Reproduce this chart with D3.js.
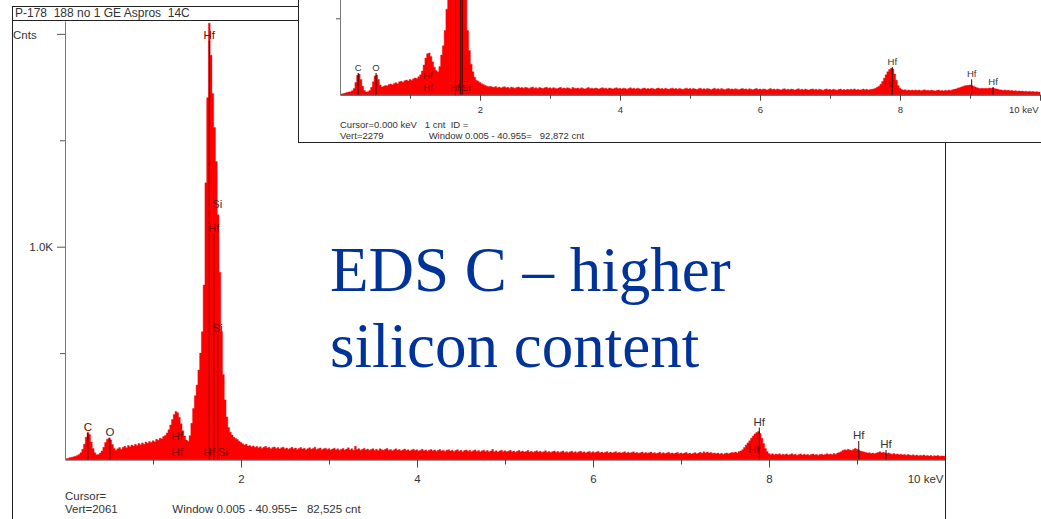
<!DOCTYPE html>
<html><head><meta charset="utf-8">
<script src="https://cdn.jsdelivr.net/npm/d3@7"></script>
<style>
body{margin:0;background:#fff;}
svg{display:block;}
text{font-family:"Liberation Sans",Arial,sans-serif;}
</style>
</head><body>
<svg id="c" width="1041" height="519"></svg>
<script>
// ---------------- DATA ----------------
const mainTitle = "P-178  188 no 1 GE Aspros  14C";
const headline = ["EDS C \u2013 higher", "silicon content"];

// main spectrum: counts per 0.02 keV channel group, 0 .. 10 keV (10 values per 0.2 keV row)
const mainStep = 0.02;
const mainCounts = [
  0, 3, 6, 9, 11, 13, 15, 19, 24, 32,
  48, 72, 105, 127, 118, 82, 52, 32, 22, 24,
  30, 40, 58, 80, 95, 100, 92, 70, 52, 44,
  50, 56, 48, 58, 62, 55, 66, 60, 68, 63,
  72, 66, 75, 69, 78, 72, 82, 76, 85, 80,
  88, 83, 95, 90, 100, 97, 108, 113, 125, 140,
  162, 188, 212, 226, 220, 198, 168, 135, 110, 92,
  86, 112, 170, 240, 300, 350, 420, 500, 600, 820,
  1300, 1700, 2050, 1900, 1720, 1560, 1400, 1150, 880, 600,
  400, 280, 200, 150, 128, 115, 104, 99, 94, 86,
  80, 74, 68, 72, 63, 66, 60, 64, 57, 61,
  55, 60, 53, 58, 62, 54, 57, 50, 56, 59,
  52, 56, 49, 55, 58, 51, 54, 48, 53, 57,
  50, 54, 47, 52, 56, 49, 53, 46, 51, 55,
  48, 52, 58, 47, 51, 54, 46, 50, 53, 47,
  51, 45, 49, 53, 46, 50, 44, 48, 52, 45,
  49, 55, 46, 50, 43, 62, 47, 51, 44, 48,
  52, 45, 49, 43, 47, 51, 44, 48, 42, 50,
  46, 43, 48, 52, 44, 47, 41, 46, 50, 43,
  47, 41, 45, 49, 42, 46, 40, 45, 48, 42,
  46, 40, 44, 48, 41, 45, 39, 44, 47, 41,
  45, 39, 43, 47, 40, 44, 38, 43, 46, 40,
  44, 38, 42, 46, 39, 43, 37, 42, 45, 39,
  43, 37, 41, 45, 38, 42, 36, 41, 44, 38,
  42, 36, 40, 47, 37, 41, 35, 40, 43, 37,
  41, 36, 39, 43, 36, 40, 34, 39, 42, 36,
  40, 35, 38, 42, 35, 39, 34, 38, 41, 35,
  39, 34, 37, 41, 34, 38, 33, 37, 40, 34,
  38, 33, 37, 40, 33, 37, 32, 36, 39, 33,
  37, 32, 36, 39, 33, 36, 31, 35, 38, 32,
  36, 32, 35, 38, 32, 35, 30, 34, 37, 31,
  35, 31, 34, 37, 31, 34, 30, 33, 36, 30,
  34, 30, 33, 36, 30, 33, 29, 32, 35, 29,
  33, 29, 32, 35, 29, 32, 28, 31, 34, 28,
  32, 28, 31, 34, 28, 31, 27, 30, 33, 27,
  31, 27, 30, 33, 27, 30, 26, 29, 32, 27,
  30, 34, 29, 36, 31, 35, 30, 33, 28, 31,
  27, 30, 26, 29, 25, 28, 31, 27, 30, 33,
  32, 35, 30, 38, 40, 46, 56, 68, 78, 88,
  100, 110, 120, 127, 131, 122, 100, 75, 52, 38,
  28, 24, 27, 22, 26, 23, 27, 21, 25, 22,
  26, 21, 24, 27, 22, 25, 20, 24, 26, 21,
  25, 21, 24, 20, 23, 26, 21, 24, 20, 23,
  25, 21, 24, 27, 23, 26, 22, 28, 25, 30,
  33, 37, 42, 46, 44, 48, 45, 42, 47, 52,
  48, 44, 40, 38, 35, 33, 30, 32, 28, 30,
  27, 30, 33, 36, 32, 34, 30, 28, 31, 27,
  25, 28, 24, 26, 22, 25, 21, 24, 20, 23,
  21, 19, 22, 18, 21, 17, 20, 18, 21, 17,
  19, 16, 19, 15, 18, 16, 19, 15, 17, 16,
  15
];

// inset spectrum: counts per 0.025 keV, 0 .. 10 keV (8 values per 0.2 keV row)
const insetStep = 0.025;
const insetCounts = [
  0, 4, 8, 11, 14, 17, 20, 26,
  40, 80, 128, 135, 100, 55, 28, 18,
  20, 28, 48, 85, 122, 129, 100, 64,
  50, 55, 60, 58, 66, 70, 65, 74,
  78, 72, 84, 88, 82, 92, 96, 90,
  100, 95, 104, 110, 106, 118, 130, 155,
  195, 240, 268, 273, 250, 215, 180, 158,
  150, 185, 260, 320, 420, 560, 700, 900,
  1400, 1900, 2200, 2000, 1800, 1600, 1400, 1100,
  750, 420, 290, 200, 150, 115, 95, 88,
  80, 72, 66, 60, 56, 52, 55, 50,
  48, 53, 46, 50, 44, 49, 52, 45,
  48, 43, 50, 46, 42, 47, 51, 44,
  47, 42, 48, 45, 41, 46, 50, 43,
  46, 41, 47, 44, 40, 45, 49, 42,
  45, 40, 46, 43, 39, 44, 48, 41,
  44, 40, 45, 42, 38, 47, 43, 40,
  44, 39, 45, 41, 38, 43, 47, 40,
  43, 39, 44, 41, 37, 42, 46, 40,
  43, 38, 44, 40, 37, 42, 45, 39,
  42, 38, 43, 40, 36, 41, 45, 39,
  42, 37, 43, 39, 36, 41, 44, 38,
  41, 37, 42, 39, 35, 40, 44, 38,
  41, 36, 42, 38, 35, 40, 43, 37,
  40, 36, 41, 38, 34, 39, 43, 37,
  40, 35, 41, 37, 34, 39, 42, 36,
  39, 35, 40, 37, 33, 38, 42, 36,
  39, 34, 40, 36, 33, 38, 41, 35,
  38, 34, 39, 36, 32, 37, 41, 35,
  38, 33, 39, 35, 32, 37, 40, 34,
  37, 33, 38, 35, 31, 36, 40, 34,
  37, 32, 38, 34, 31, 36, 39, 33,
  36, 32, 37, 34, 30, 35, 39, 33,
  36, 31, 37, 33, 30, 35, 38, 32,
  35, 31, 36, 33, 29, 34, 38, 32,
  35, 30, 36, 32, 29, 34, 37, 31,
  34, 30, 35, 32, 36, 33, 38, 31,
  34, 30, 33, 37, 32, 35, 31, 34,
  36, 38, 42, 48, 56, 68, 86, 108,
  130, 150, 165, 173, 168, 135, 95, 60,
  42, 34, 30, 32, 28, 31, 27, 30,
  28, 31, 27, 30, 26, 29, 32, 27,
  29, 26, 30, 27, 25, 28, 31, 26,
  28, 25, 29, 26, 30, 28, 32, 35,
  38, 42, 46, 50, 54, 58, 60, 62,
  63, 60, 56, 50, 46, 42, 40, 42,
  40, 43, 41, 44, 42, 44, 40, 38,
  35, 32, 30, 28, 31, 27, 29, 26,
  27, 24, 26, 23, 25, 22, 24, 21,
  23, 20, 22, 19, 21, 18, 20, 18,
  17
];

const xMajorTicks = [2, 4, 6, 8, 10];
const xMajorLabels = ["2", "4", "6", "8", "10 keV"];
const xMinorTicks = [1, 3, 5, 7, 9];
const yMajorTicks = [1000, 2000];
const yMajorLabels = ["1.0K", ""];
const yMinorTicks = [500, 1500];
const yUnit = "Cnts";

const mainVert = 2061;
const insetVert = 2279;

// peak identification markers: element, energy (keV), marker height (counts), draw line?
const mainMarkers = [
  {el: "C",  e: 0.26,  top: 124,  line: true},
  {el: "O",  e: 0.51,  top: 103,  line: true},
  {el: "Hf", e: 1.275, top: 82,   line: false},
  {el: "Hf", e: 1.275, top: 7,    line: false},
  {el: "Hf", e: 1.64,  top: 1967, line: true},
  {el: "Si", e: 1.73,  top: 1172, line: false},
  {el: "Hf", e: 1.69,  top: 1060, line: true},
  {el: "Si", e: 1.735, top: 590,  line: true},
  {el: "Hf", e: 1.64,  top: 7,    line: false},
  {el: "Si", e: 1.795, top: 7,    line: false},
  {el: "Hf", e: 7.89,  top: 150,  line: true},
  {el: "Hf", e: 7.83,  top: 21,   line: false},
  {el: "Hf", e: 9.02,  top: 87,   line: true},
  {el: "Hf", e: 9.33,  top: 45,   line: true}
];
const insetMarkers = [
  {el: "C",  e: 0.26,  top: 142,  line: true},
  {el: "O",  e: 0.515, top: 142,  line: true},
  {el: "Hf", e: 1.257, top: 90,   line: false},
  {el: "Hf", e: 1.257, top: 13,   line: false},
  {el: "Hf", e: 1.643, top: 13,   line: false},
  {el: "Si", e: 1.807, top: 13,   line: false},
  {el: "Hf", e: 1.65,  top: 2200, line: true},
  {el: "Hf", e: 1.72,  top: 1200, line: true},
  {el: "Si", e: 1.745, top: 700,  line: true},
  {el: "Hf", e: 7.89,  top: 181,  line: true},
  {el: "Hf", e: 7.84,  top: 35,   line: false},
  {el: "Hf", e: 9.024, top: 101,  line: true},
  {el: "Hf", e: 9.33,  top: 50,   line: true}
];

const mainInfo = ["Cursor=", "Vert=2061", "Window 0.005 - 40.955=   82,525 cnt"];
const insetInfo = ["Cursor=0.000 keV   1 cnt  ID =", "Vert=2279", "Window 0.005 - 40.955=   92,872 cnt"];

// ---------------- DRAWING ----------------
const svg = d3.select("#c");
const TXT = "#333";

function drawPanel(g, o) {
  const x = d3.scaleLinear([0, 10], [o.x0, o.x1]);
  const y = d3.scaleLinear([0, o.vert], [o.y0, o.y0 - o.h]);
  const data = o.counts.map((c, i) => ({e: i * o.step, c}));
  const area = d3.area().x(d => x(d.e)).y0(y(0)).y1(d => y(d.c)).curve(d3.curveStep);
  g.append("path").datum(data).attr("d", area)
    .attr("fill", "#ff0000").attr("stroke", "#ee0000").attr("stroke-width", 0.4);

  // markers
  o.markers.forEach(m => {
    const inside = m.top < o.counts[Math.round(m.e / o.step)];
    if (m.line) {
      g.append("line").attr("x1", x(m.e)).attr("x2", x(m.e))
        .attr("y1", Math.max(y(m.top), 0)).attr("y2", y(0))
        .attr("stroke", "#3a0000").attr("stroke-width", 1);
    }
    const ly = y(m.top) - 2;
    if (ly > 10) {   // labels above the visible window are not shown
      g.append("text").attr("x", x(m.e)).attr("y", ly)
        .attr("text-anchor", "middle").attr("font-size", o.fs)
        .attr("fill", inside ? "#7a0000" : TXT).text(m.el);
    }
  });

  // x axis major
  const ax = g.append("g").attr("transform", `translate(0,${o.y0})`)
    .call(d3.axisBottom(x).tickValues(xMajorTicks).tickSize(o.tMaj).tickSizeOuter(0)
      .tickPadding(o.xPad).tickFormat((d, i) => xMajorLabels[i]));
  ax.select(".domain").attr("stroke", "#333");
  ax.selectAll(".tick line").attr("stroke", "#444");
  ax.selectAll(".tick text").attr("font-size", o.fs).attr("fill", TXT)
    .attr("font-family", "Liberation Sans, Arial, sans-serif");
  ax.selectAll(".tick").filter((d, i) => i === xMajorTicks.length - 1)
    .select("text").attr("text-anchor", "end").attr("x", -2);
  const axm = g.append("g").attr("transform", `translate(0,${o.y0})`)
    .call(d3.axisBottom(x).tickValues(xMinorTicks).tickSize(o.tMin).tickSizeOuter(0).tickFormat(""));
  axm.select(".domain").remove();
  axm.selectAll(".tick line").attr("stroke", "#444");

  // y axis (only ticks inside the visible window)
  const visY = v => y(v) > 5;
  const ay = g.append("g").attr("transform", `translate(${o.x0},0)`)
    .call(d3.axisLeft(y).tickValues(yMajorTicks.filter(visY)).tickSize(o.tMaj).tickSizeOuter(0)
      .tickPadding(o.yPad).tickFormat(d => yMajorLabels[yMajorTicks.indexOf(d)]));
  ay.select(".domain").attr("stroke", "#777");
  ay.selectAll(".tick line").attr("stroke", "#555");
  ay.selectAll(".tick text").attr("font-size", o.fs).attr("fill", TXT)
    .attr("font-family", "Liberation Sans, Arial, sans-serif");
  const aym = g.append("g").attr("transform", `translate(${o.x0},0)`)
    .call(d3.axisLeft(y).tickValues(yMinorTicks.filter(visY)).tickSize(o.tMin).tickSizeOuter(0).tickFormat(""));
  aym.select(".domain").remove();
  aym.selectAll(".tick line").attr("stroke", "#555");

  // info text
  const k = o.fs / 12;
  g.append("text").attr("x", o.x0).attr("y", o.y0 + 42.5 * k).attr("font-size", o.fs)
    .attr("fill", TXT).style("white-space", "pre").text(o.info[0]);
  g.append("text").attr("x", o.x0).attr("y", o.y0 + 55.5 * k).attr("font-size", o.fs)
    .attr("fill", TXT).style("white-space", "pre").text(o.info[1]);
  g.append("text").attr("x", o.x0 + 112 * k).attr("y", o.y0 + 55.5 * k).attr("font-size", o.fs)
    .attr("fill", TXT).style("white-space", "pre").text(o.info[2]);
  return {x, y};
}

// main panel
const main = svg.append("g");
main.append("text").attr("x", 15).attr("y", 17).attr("font-size", 12).attr("fill", TXT)
  .style("white-space", "pre").text(mainTitle);

drawPanel(main, {
  x0: 65, x1: 945, y0: 459.5, h: 438.6, vert: mainVert,
  counts: mainCounts, step: mainStep, markers: mainMarkers,
  fs: 11.5, tMaj: 8, tMin: 5, xPad: 7, yPad: 4, info: mainInfo
});
main.append("text").attr("x", 13).attr("y", 39).attr("font-size", 11.5).attr("fill", TXT).text(yUnit);

// frame lines
const frame = [
  [12.5, 6, 12.5, 519], [12, 6.5, 298, 6.5], [12, 20.5, 298, 20.5], [945.5, 142, 945.5, 519]
];
frame.forEach(f => main.append("line").attr("x1", f[0]).attr("y1", f[1]).attr("x2", f[2]).attr("y2", f[3])
  .attr("stroke", "#222").attr("stroke-width", 1));

// big headline
const hl = svg.append("g").attr("fill", "#003399").attr("font-size", 63);
hl.append("text").attr("x", 330).attr("y", 291).style("font-family", "'Liberation Serif', 'Times New Roman', serif").text(headline[0]);
hl.append("text").attr("x", 330).attr("y", 367).style("font-family", "'Liberation Serif', 'Times New Roman', serif").text(headline[1]);

// inset panel
const inset = svg.append("g");
inset.append("rect").attr("x", 298.5).attr("y", -2).attr("width", 760).attr("height", 144.5)
  .attr("fill", "#fff").attr("stroke", "#222").attr("stroke-width", 1);
const insetClip = svg.append("clipPath").attr("id", "insetClip");
insetClip.append("rect").attr("x", 299).attr("y", 0).attr("width", 742).attr("height", 142);
const insetBody = inset.append("g").attr("clip-path", "url(#insetClip)");
drawPanel(insetBody, {
  x0: 340, x1: 1040, y0: 94.7, h: 348.2, vert: insetVert,
  counts: insetCounts, step: insetStep, markers: insetMarkers,
  fs: 9.5, tMaj: 6, tMin: 4, xPad: 5.5, yPad: 3, info: insetInfo
});
</script>
</body></html>
